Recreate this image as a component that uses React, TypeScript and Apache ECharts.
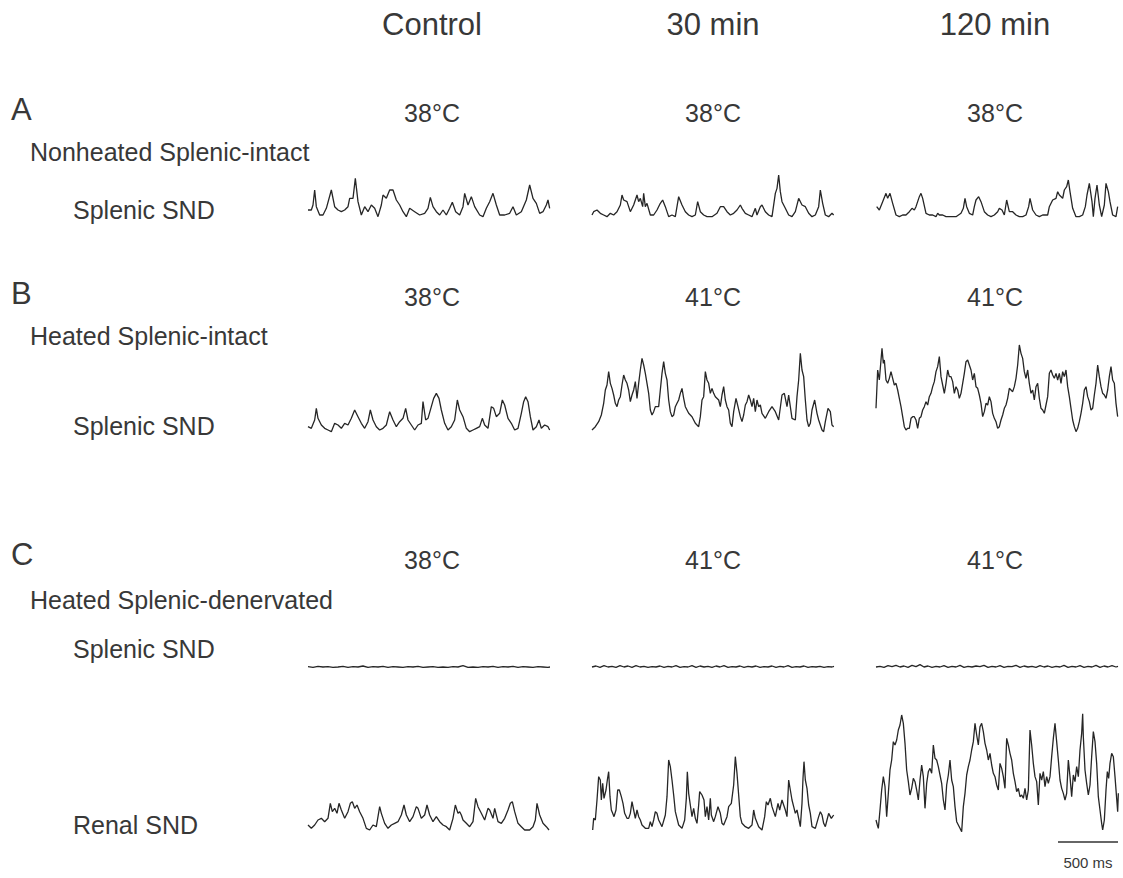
import React, { useEffect, useRef } from "react";
import * as echarts from "echarts";

// ---------- DATA (time in samples ≈ 2.9 ms each, amplitude in a.u.) ----------
const COLUMNS = ["Control", "30 min", "120 min"];
const TEMPS_A = ["38°C", "38°C", "38°C"];
const TEMPS_B = ["38°C", "41°C", "41°C"];
const TEMPS_C = ["38°C", "41°C", "41°C"];
const SCALE_LABEL = "500 ms";

const A_CONTROL: [number, number][] = [[0,24],[10,24],[15,39],[20,84],[25,34],[35,9],[45,9],[55,29],[70,84],[80,34],[90,24],[100,19],[110,24],[120,34],[125,59],[135,59],[142,119],[150,49],[160,9],[170,34],[180,19],[190,39],[200,29],[210,4],[220,39],[225,69],[235,59],[245,84],[255,84],[265,54],[275,39],[285,19],[295,4],[305,29],[320,19],[335,9],[350,14],[360,29],[367,62],[375,34],[385,19],[395,9],[405,24],[415,9],[425,29],[433,47],[443,19],[455,9],[465,34],[470,74],[480,39],[490,64],[500,34],[515,9],[525,4],[535,29],[545,49],[555,74],[565,39],[575,9],[590,9],[605,14],[615,34],[625,9],[640,19],[655,54],[665,99],[675,59],[685,44],[695,14],[705,19],[715,39],[720,54],[725,29]];
const A_30: [number, number][] = [[0,9],[5,19],[15,24],[25,14],[35,9],[45,4],[55,14],[65,9],[75,19],[85,39],[90,69],[95,54],[105,49],[115,19],[125,39],[135,69],[140,49],[145,59],[152,34],[155,74],[160,34],[165,44],[175,9],[185,9],[195,24],[205,44],[212,54],[220,34],[230,4],[240,9],[250,4],[260,64],[270,39],[280,19],[290,9],[300,4],[310,9],[317,49],[325,19],[335,9],[345,4],[360,4],[375,14],[385,34],[395,34],[405,19],[415,9],[425,14],[435,24],[445,39],[450,29],[460,14],[470,9],[480,4],[490,29],[495,9],[505,34],[510,39],[520,19],[530,9],[540,4],[550,74],[555,89],[560,129],[565,79],[570,49],[580,29],[590,9],[600,4],[610,19],[620,59],[630,39],[640,34],[650,14],[660,4],[670,9],[680,34],[685,84],[692,44],[700,9],[710,4],[720,14],[725,9]];
const A_120: [number, number][] = [[2,34],[10,24],[20,49],[30,74],[35,59],[42,74],[50,44],[60,9],[70,4],[80,9],[90,9],[100,19],[108,29],[115,24],[120,34],[130,64],[135,74],[140,59],[150,14],[160,9],[170,9],[180,4],[185,14],[190,9],[200,9],[210,4],[225,4],[240,4],[255,14],[262,29],[267,59],[272,34],[280,14],[290,9],[295,34],[300,54],[308,64],[315,49],[325,19],[335,9],[345,4],[355,9],[365,19],[370,29],[378,24],[385,9],[392,54],[400,19],[410,19],[420,9],[430,4],[440,4],[450,9],[458,34],[462,59],[470,24],[480,9],[490,4],[500,9],[515,9],[520,34],[530,54],[540,59],[545,79],[550,69],[560,59],[565,84],[572,94],[577,114],[582,79],[590,29],[600,4],[610,4],[620,9],[628,34],[633,69],[640,104],[648,49],[652,4],[657,59],[663,99],[670,39],[677,4],[685,39],[690,104],[697,79],[702,49],[710,9],[720,4],[725,34]];

const B_CONTROL: [number, number][] = [[0,22],[10,17],[20,42],[25,77],[30,47],[40,27],[50,17],[60,12],[70,7],[80,32],[90,27],[100,17],[110,32],[120,27],[130,47],[140,72],[150,52],[160,32],[170,17],[180,37],[187,72],[195,42],[205,22],[215,12],[225,17],[235,27],[245,67],[255,42],[265,22],[275,37],[285,47],[293,77],[300,42],[310,27],[320,12],[330,27],[340,32],[345,97],[353,42],[360,47],[370,82],[377,107],[385,122],[393,107],[400,72],[410,32],[420,12],[430,22],[440,42],[448,102],[455,72],[465,52],[475,17],[485,7],[495,12],[505,17],[515,22],[523,47],[530,27],[540,17],[550,82],[557,77],[565,52],[575,62],[583,102],[590,87],[600,47],[610,32],[620,12],[630,17],[640,62],[647,97],[653,112],[660,97],[667,52],[675,12],[685,22],[693,42],[700,17],[710,27],[720,22],[725,12]];
const B_30: [number, number][] = [[0,12],[10,22],[20,37],[28,57],[35,92],[40,132],[45,147],[50,187],[55,152],[60,137],[65,117],[70,92],[75,82],[80,102],[85,112],[90,147],[95,177],[100,162],[105,152],[110,132],[115,97],[120,117],[125,132],[130,157],[135,107],[140,152],[145,192],[150,227],[155,207],[160,182],[165,152],[170,122],[175,72],[180,57],[185,67],[190,82],[200,82],[205,132],[210,182],[215,217],[220,182],[225,162],[230,102],[235,67],[240,52],[245,57],[250,82],[255,92],[260,102],[265,122],[270,137],[275,107],[280,82],[290,62],[300,52],[310,32],[320,22],[325,52],[330,102],[335,112],[340,187],[345,162],[350,152],[355,122],[360,137],[365,122],[370,112],[380,102],[385,82],[390,117],[395,142],[400,102],[405,82],[410,72],[415,32],[420,22],[425,67],[432,107],[438,82],[445,52],[450,37],[455,57],[460,87],[465,97],[470,117],[475,102],[480,82],[485,107],[490,67],[495,102],[500,82],[505,87],[510,62],[520,47],[530,67],[540,82],[550,67],[560,42],[570,117],[577,122],[585,82],[590,117],[600,47],[610,42],[615,112],[620,162],[625,242],[630,192],[635,172],[640,102],[645,42],[650,22],[655,32],[660,72],[668,102],[675,62],[680,42],[690,12],[695,7],[700,37],[708,77],[715,67],[720,27],[725,22]];
const B_120: [number, number][] = [[0,77],[2,122],[5,192],[10,162],[15,222],[18,257],[22,212],[25,222],[30,162],[35,152],[40,167],[45,187],[50,167],[55,147],[60,152],[65,132],[70,107],[75,82],[80,52],[85,22],[90,12],[95,17],[100,17],[105,47],[110,52],[115,52],[120,42],[125,17],[130,47],[135,52],[140,72],[145,82],[150,97],[155,87],[160,112],[165,122],[170,142],[175,157],[180,187],[185,202],[190,232],[195,172],[200,147],[205,122],[210,152],[215,192],[220,172],[225,172],[230,157],[235,122],[240,142],[245,132],[250,107],[255,122],[260,152],[265,182],[270,217],[275,222],[280,207],[285,192],[290,162],[295,182],[300,142],[305,137],[310,117],[315,92],[320,52],[325,67],[330,92],[335,87],[340,112],[345,97],[350,62],[355,47],[360,37],[365,17],[370,22],[375,42],[380,57],[385,77],[390,87],[395,107],[400,137],[405,132],[410,127],[415,142],[420,167],[425,207],[430,267],[435,242],[440,227],[445,187],[450,167],[455,192],[460,152],[465,122],[470,132],[475,102],[480,142],[485,152],[490,107],[495,77],[500,72],[505,62],[510,87],[515,112],[520,182],[525,192],[530,177],[535,167],[540,182],[545,162],[550,182],[555,152],[560,187],[565,172],[570,192],[575,142],[580,112],[585,77],[590,42],[595,22],[600,7],[605,17],[610,37],[615,62],[620,92],[625,132],[630,142],[635,112],[640,97],[645,72],[650,77],[655,117],[660,152],[665,207],[670,172],[675,142],[680,122],[685,117],[690,107],[695,132],[700,172],[705,202],[710,162],[715,152],[720,92],[725,52]];

const CS_CONTROL: [number, number][] = [[0,4],[15,2],[30,5],[45,3],[60,4],[75,2],[90,3],[105,5],[120,2],[135,4],[150,3],[165,6],[180,2],[195,4],[210,3],[225,5],[240,2],[255,4],[270,3],[285,2],[300,4],[315,3],[330,5],[345,2],[360,3],[375,4],[390,2],[405,3],[420,2],[435,4],[450,3],[465,7],[480,2],[495,3],[510,2],[525,4],[540,3],[555,5],[570,2],[585,4],[600,3],[615,5],[630,2],[645,4],[660,3],[675,2],[690,4],[705,3],[720,2],[726,3]];
const CS_30: [number, number][] = [[0,3],[12,6],[24,2],[36,7],[48,3],[60,5],[72,2],[84,7],[96,3],[108,6],[120,2],[132,7],[144,3],[156,5],[168,2],[180,4],[192,3],[204,6],[216,2],[228,5],[240,3],[252,7],[264,2],[276,4],[288,3],[300,7],[312,2],[324,6],[336,3],[348,5],[360,2],[372,6],[384,3],[396,7],[408,2],[420,4],[432,3],[444,6],[456,2],[468,5],[480,3],[492,6],[504,2],[516,4],[528,3],[540,6],[552,2],[564,5],[576,3],[588,7],[600,2],[612,4],[624,3],[636,6],[648,2],[660,4],[672,3],[684,5],[696,2],[708,4],[720,3],[726,5]];
const CS_120: [number, number][] = [[0,3],[12,5],[24,2],[36,7],[48,4],[60,8],[72,3],[84,6],[96,2],[108,8],[120,4],[132,10],[144,3],[156,6],[168,2],[180,5],[192,3],[204,7],[216,2],[228,5],[240,3],[252,8],[264,2],[276,5],[288,3],[300,6],[312,4],[324,8],[336,2],[348,5],[360,3],[372,7],[384,2],[396,5],[408,4],[420,8],[432,2],[444,6],[456,3],[468,5],[480,2],[492,7],[504,3],[516,6],[528,2],[540,5],[552,3],[564,8],[576,2],[588,5],[600,3],[612,7],[624,2],[636,5],[648,3],[660,8],[672,2],[684,6],[696,3],[708,7],[720,3],[726,5]];

const R_CONTROL: [number, number][] = [[0,21],[10,11],[20,21],[30,36],[40,41],[50,31],[60,41],[67,86],[73,61],[80,71],[87,56],[93,86],[100,66],[110,41],[120,61],[127,86],[133,91],[140,71],[147,81],[155,61],[165,41],[175,11],[185,6],[195,21],[205,16],[215,76],[220,56],[230,26],[240,11],[250,21],[260,26],[270,31],[280,51],[288,81],[295,51],[305,31],[315,46],[325,76],[330,71],[340,41],[350,51],[357,81],[365,51],[375,31],[385,46],[395,31],[405,21],[415,16],[425,6],[435,41],[442,81],[450,56],[455,61],[460,51],[465,36],[475,26],[485,16],[495,31],[503,101],[510,76],[520,56],[530,36],[540,71],[545,66],[555,41],[560,71],[570,31],[580,26],[590,41],[600,66],[607,86],[613,91],[620,61],[630,26],[640,16],[650,6],[665,6],[675,16],[682,36],[687,86],[695,51],[705,26],[715,16],[723,6]];
const R_30: [number, number][] = [[2,6],[5,41],[10,36],[15,96],[20,166],[25,156],[28,96],[32,146],[36,101],[42,126],[46,156],[50,181],[54,106],[58,66],[62,56],[66,46],[72,66],[77,126],[82,126],[88,106],[93,86],[98,56],[105,41],[110,41],[115,56],[120,91],[125,66],[130,41],[135,66],[140,46],[145,36],[150,21],[160,11],[170,11],[175,31],[180,16],[185,36],[190,61],[195,56],[200,36],[210,16],[220,51],[225,106],[230,216],[235,196],[240,156],[245,111],[250,61],[255,41],[260,21],[270,11],[278,36],[283,101],[286,181],[290,116],[295,81],[300,46],[305,71],[310,41],[315,26],[320,81],[323,121],[330,111],[336,96],[340,46],[345,76],[350,36],[355,101],[358,51],[365,31],[370,46],[378,76],[385,56],[390,26],[395,21],[405,46],[410,76],[418,86],[425,141],[430,226],[435,176],[440,111],[445,46],[450,26],[460,16],[470,11],[480,21],[485,66],[490,41],[500,16],[510,6],[518,46],[523,91],[528,81],[535,101],[540,76],[545,61],[550,46],[558,86],[563,66],[570,96],[575,81],[580,66],[585,46],[590,156],[595,126],[600,96],[605,76],[610,56],[615,66],[620,41],[625,16],[630,86],[633,161],[636,211],[640,156],[645,131],[650,81],[655,56],[660,16],[670,11],[680,46],[685,61],[690,51],[695,26],[700,16],[705,36],[710,56],[718,41],[725,51]];
const R_120: [number, number][] = [[0,36],[4,21],[7,11],[12,66],[17,126],[22,166],[27,136],[32,46],[37,116],[42,186],[47,216],[52,271],[57,261],[62,276],[67,306],[72,321],[77,351],[82,326],[87,266],[92,186],[97,151],[102,111],[107,131],[112,161],[117,151],[122,126],[127,96],[132,156],[137,201],[142,166],[147,71],[152,146],[157,181],[162,191],[167,176],[172,261],[177,221],[182,216],[187,196],[192,171],[197,146],[202,96],[207,66],[212,141],[217,171],[222,216],[227,156],[232,136],[237,76],[242,31],[252,11],[257,1],[262,76],[267,116],[272,171],[277,196],[282,216],[287,246],[292,271],[297,326],[302,291],[307,261],[312,316],[317,326],[322,301],[327,266],[332,246],[337,216],[342,236],[347,201],[352,176],[357,166],[362,141],[367,126],[372,206],[377,191],[382,166],[387,131],[392,281],[397,261],[402,236],[407,216],[412,176],[417,151],[422,121],[427,131],[432,106],[437,111],[442,101],[447,131],[452,96],[457,126],[462,306],[467,261],[472,206],[477,166],[482,151],[487,81],[492,176],[497,156],[502,181],[507,136],[512,166],[517,146],[522,166],[527,226],[532,281],[537,326],[542,271],[547,216],[552,156],[557,131],[562,116],[567,96],[572,116],[577,216],[582,166],[587,106],[592,171],[597,151],[602,196],[607,166],[612,246],[617,296],[620,355],[622,286],[627,186],[632,146],[637,111],[642,141],[647,226],[652,301],[657,271],[662,206],[667,106],[672,66],[677,26],[680,6],[685,36],[690,126],[694,181],[698,161],[702,206],[707,236],[712,226],[717,166],[722,101],[725,61],[727,116]];

// ---------- LAYOUT ----------
const COL_LEFT = [308, 592, 876];
const COL_CENTER = [432, 713, 995];
const TRACE_W = 242;
const X_MAX = 726;
const ROWS = [
  { bottom: 218, height: 50, traces: [A_CONTROL, A_30, A_120] },
  { bottom: 434, height: 100, traces: [B_CONTROL, B_30, B_120] },
  { bottom: 668, height: 20, traces: [CS_CONTROL, CS_30, CS_120] },
  { bottom: 832, height: 125, traces: [R_CONTROL, R_30, R_120] },
];

const TEXT_COLOR = "#383838";
const FONT = "'Liberation Sans', Arial, Helvetica, sans-serif";

function txt(text: string, x: number, y: number, size: number, align: string = "left") {
  return {
    type: "text",
    x,
    y,
    silent: true,
    style: {
      text,
      font: `${size}px ${FONT}`,
      fill: TEXT_COLOR,
      textAlign: align,
      textVerticalAlign: "middle",
    },
  };
}

export default function App() {
  const ref = useRef<HTMLDivElement>(null);
  useEffect(() => {
    if (!ref.current) return;
    const chart = echarts.init(ref.current, undefined, { renderer: "svg" });
    const grids: any[] = [];
    const xAxes: any[] = [];
    const yAxes: any[] = [];
    const series: any[] = [];
    let idx = 0;
    ROWS.forEach((row) => {
      row.traces.forEach((data, c) => {
        grids.push({
          left: COL_LEFT[c],
          top: row.bottom - row.height,
          width: TRACE_W,
          height: row.height,
          show: false,
        });
        xAxes.push({ type: "value", gridIndex: idx, min: 0, max: X_MAX, show: false });
        yAxes.push({ type: "value", gridIndex: idx, min: 0, max: row.height * 3, show: false });
        series.push({
          type: "line",
          xAxisIndex: idx,
          yAxisIndex: idx,
          data,
          showSymbol: false,
          symbol: "none",
          lineStyle: { color: "#262626", width: 1.3 },
          silent: true,
        });
        idx++;
      });
    });

    const graphics: any[] = [];
    COLUMNS.forEach((t, i) => graphics.push(txt(t, COL_CENTER[i], 24, 31, "center")));
    graphics.push(txt("A", 11, 109, 31));
    TEMPS_A.forEach((t, i) => graphics.push(txt(t, COL_CENTER[i], 113, 25, "center")));
    graphics.push(txt("Nonheated Splenic-intact", 30, 152, 25));
    graphics.push(txt("Splenic SND", 73, 210, 25));
    graphics.push(txt("B", 11, 293, 31));
    TEMPS_B.forEach((t, i) => graphics.push(txt(t, COL_CENTER[i], 297, 25, "center")));
    graphics.push(txt("Heated Splenic-intact", 30, 336, 25));
    graphics.push(txt("Splenic SND", 73, 426, 25));
    graphics.push(txt("C", 11, 554, 31));
    TEMPS_C.forEach((t, i) => graphics.push(txt(t, COL_CENTER[i], 560, 25, "center")));
    graphics.push(txt("Heated Splenic-denervated", 30, 600, 25));
    graphics.push(txt("Splenic SND", 73, 649, 25));
    graphics.push(txt("Renal SND", 73, 825, 25));
    graphics.push({
      type: "line",
      silent: true,
      shape: { x1: 1058, y1: 842, x2: 1118, y2: 842 },
      style: { stroke: "#333", lineWidth: 1.5 },
    });
    graphics.push(txt(SCALE_LABEL, 1088, 862, 15, "center"));

    chart.setOption({
      animation: false,
      backgroundColor: "#ffffff",
      grid: grids,
      xAxis: xAxes,
      yAxis: yAxes,
      series,
      graphic: graphics,
    });
    return () => chart.dispose();
  }, []);
  return (
    <div
      ref={ref}
      style={{ position: "absolute", left: 0, top: 0, width: 1123, height: 878 }}
    />
  );
}
